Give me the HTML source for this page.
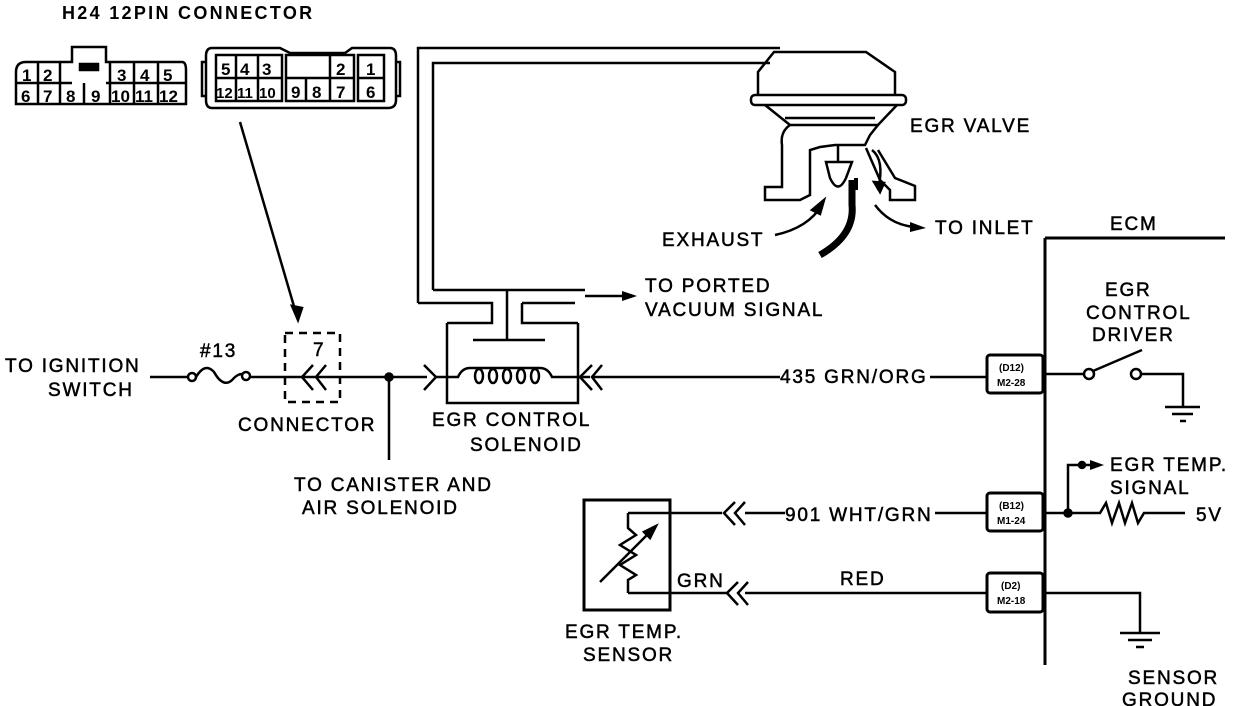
<!DOCTYPE html>
<html><head><meta charset="utf-8"><style>
html,body{margin:0;padding:0;background:#fff;width:1248px;height:706px;overflow:hidden}
svg{display:block}
text{font-family:"Liberation Sans",sans-serif;font-size:19px;fill:#000;letter-spacing:1.8px;stroke:#000;stroke-width:0.5}
.s{font-size:10px;font-weight:bold;letter-spacing:0;stroke:none}
.n{font-size:17px;font-weight:bold;letter-spacing:0;stroke:none}
</style></head><body>
<svg width="1248" height="706" viewBox="0 0 1248 706" fill="none" stroke="#000" stroke-width="2.5">
<text x="62" y="19" style="font-size:18px;font-weight:bold;letter-spacing:2.3px;stroke:none">H24 12PIN CONNECTOR</text>
<!-- left connector -->
<path d="M16,104 V72 Q16,62 26,62 H72 V47 H106 V62 H182 Q186,62 186,70 V104 Z"/>
<path d="M16,83 H72 M106,83 H186 M38,62 V104 M60,62 V104 M110,62 V104 M134,62 V104 M158,62 V104 M84,83 V104"/>
<rect x="80" y="64" width="18" height="6" fill="#000"/>
<text x="22" y="81" class="n">1</text><text x="43" y="81" class="n">2</text><text x="117" y="81" class="n">3</text><text x="140" y="81" class="n">4</text><text x="163" y="81" class="n">5</text>
<text x="21" y="102" class="n">6</text><text x="43" y="102" class="n">7</text><text x="66" y="102" class="n">8</text><text x="91" y="102" class="n">9</text><text x="111" y="102" class="n">10</text><text x="135" y="102" class="n">11</text><text x="159" y="102" class="n">12</text>
<!-- right connector -->
<path d="M212,48 H280 L290,53 H345 L352,48 H390 Q396,48 396,56 V100 Q396,108 388,108 H212 Q206,108 206,100 V56 Q206,48 212,48 Z"/>
<path d="M206,62 H202 V96 H206 M396,62 H400 V96 H396"/>
<rect x="216" y="55" width="66" height="46"/>
<rect x="286" y="55" width="68" height="46"/>
<rect x="358" y="55" width="26" height="46"/>
<path d="M216,78 H282 M236,55 V101 M258,55 V101 M286,78 H354 M306,78 V101 M330,55 V101 M358,78 H384"/>
<text x="221" y="75" class="n">5</text><text x="240" y="75" class="n">4</text><text x="262" y="75" class="n">3</text><text x="336" y="75" class="n">2</text><text x="366" y="75" class="n">1</text>
<text x="216" y="98" class="n" style="font-size:15px">12</text><text x="237" y="98" class="n" style="font-size:15px">11</text><text x="259" y="98" class="n" style="font-size:15px">10</text><text x="291" y="98" class="n">9</text><text x="312" y="98" class="n">8</text><text x="336" y="98" class="n">7</text><text x="366" y="98" class="n">6</text>
<path d="M240,122 L298,320"/>
<path d="M298,320 L292,306 L302,308 Z" fill="#000"/>
<!-- vacuum hose -->
<path d="M418,303 V48 H780"/>
<path d="M433,290 V63 H770"/>
<path d="M418,303 H492 V323 H447"/>
<path d="M433,290 H585"/>
<path d="M507,290 V340 M473,340 H545 M522,303 V323 H578 M522,303 H575"/>
<path d="M585,296 H628"/>
<path d="M637,296 L622,291 L622,301 Z" fill="#000" stroke="none"/>
<!-- EGR valve -->
<path d="M758,95 V72 L774,52 H866 L895,72 V95"/>
<rect x="751" y="95" width="155" height="10" rx="4"/>
<path d="M765,105 L790,125 H878 L897,105 M785,118 H875"/>
<path d="M790,125 Q780,132 782,145 V187 H765 V200 H800 L810,195 V150 L820,147 L835,145 H850 L865,145 L870,135 L878,125"/>
<path d="M838,145 V162 M826,162 H852 L846,178 Q838,195 830,178 Z"/>
<path d="M866,148 L880,180 L890,190 V200 H915 V186 L895,178 L878,150"/>
<path d="M852,180 V205 Q855,235 820,255" stroke-width="7"/>
<path d="M856,178 V190" stroke-width="4"/>
<path d="M872,150 Q885,160 878,190"/>
<path d="M880,192 L874,182 L884,183 Z" fill="#000"/>
<path d="M775,235 Q808,228 822,205"/>
<path d="M824,200 L812,210 L820,214 Z" fill="#000"/>
<path d="M875,205 Q890,225 915,227"/>
<path d="M926,228 L910,222 L910,232 Z" fill="#000" stroke="none"/>
<text x="910" y="132">EGR VALVE</text>
<text x="662" y="246">EXHAUST</text>
<text x="935" y="234">TO INLET</text>
<text x="645" y="292">TO PORTED</text>
<text x="645" y="316">VACUUM SIGNAL</text>
<!-- main wire -->
<text x="5" y="372">TO IGNITION</text>
<text x="48" y="396">SWITCH</text>
<text x="200" y="357">#13</text>
<path d="M150,377 H188"/>
<circle cx="192" cy="377" r="4"/>
<path d="M196,377 Q205,362 214,372 Q224,390 234,378 Q238,374 242,374"/>
<circle cx="246" cy="376" r="4"/>
<path d="M250,377 H427"/>
<path d="M313,365 L302,377 L313,390 M326,365 L316,377 L326,390"/>
<rect x="285" y="333" width="55" height="69" stroke-dasharray="8,6"/>
<text x="313" y="356">7</text>
<circle cx="389" cy="377" r="3.5" fill="#000"/>
<path d="M389,377 V460"/>
<path d="M424,365 L436,377 L424,390"/>
<text x="238" y="431">CONNECTOR</text>
<text x="294" y="491">TO CANISTER AND</text>
<text x="302" y="514">AIR SOLENOID</text>
<!-- solenoid -->
<path d="M447,323 V403 H578 V323"/>
<path d="M436,377 H458 Q462,368 470,368 H540 Q548,368 552,377 H590"/>
<ellipse cx="479" cy="376" rx="4" ry="7"/>
<ellipse cx="493" cy="376" rx="4" ry="7"/>
<ellipse cx="507" cy="376" rx="4" ry="7"/>
<ellipse cx="521" cy="376" rx="4" ry="7"/>
<ellipse cx="535" cy="376" rx="4" ry="7"/>
<text x="432" y="426">EGR CONTROL</text>
<text x="470" y="451">SOLENOID</text>
<path d="M592,365 L580,377 L592,390 M602,365 L592,377 L602,390"/>
<path d="M592,377 H780"/>
<text x="780" y="383">435 GRN/ORG</text>
<path d="M930,377 H987"/>
<!-- ECM -->
<path d="M1045,238 H1225 M1045,238 V665" stroke-width="3"/>
<text x="1110" y="230">ECM</text>
<rect x="987" y="355" width="56" height="38" rx="3" stroke-width="3"/>
<text x="999" y="371" class="s">(D12)</text><text x="997" y="386" class="s">M2-28</text>
<text x="1105" y="296">EGR</text>
<text x="1086" y="319">CONTROL</text>
<text x="1092" y="341">DRIVER</text>
<path d="M1045,374 H1084"/>
<circle cx="1089" cy="374" r="5"/>
<path d="M1093,371 L1142,350"/>
<circle cx="1136" cy="374" r="5"/>
<path d="M1141,374 H1183 V407 M1165,407 H1200 M1172,414 H1193 M1180,421 H1186"/>
<!-- B12 -->
<rect x="987" y="493" width="56" height="38" rx="3" stroke-width="3"/>
<text x="999" y="509" class="s">(B12)</text><text x="997" y="524" class="s">M1-24</text>
<path d="M1045,513 H1100 L1106,503 L1112,523 L1119,503 L1125,523 L1132,503 L1138,523 L1144,513 H1185"/>
<circle cx="1068" cy="513" r="3.5" fill="#000"/>
<path d="M1068,513 V465 H1100"/>
<circle cx="1082" cy="465" r="3" fill="#000"/>
<path d="M1104,465 L1090,460 L1090,470 Z" fill="#000" stroke="none"/>
<text x="1110" y="471">EGR TEMP.</text>
<text x="1110" y="494">SIGNAL</text>
<text x="1196" y="521">5V</text>
<text x="785" y="521">901 WHT/GRN</text>
<path d="M935,513 H987 M745,513 H785 M628,513 H722"/>
<path d="M735,502 L724,513 L735,525 M745,502 L735,513 L745,525"/>
<!-- D2 -->
<rect x="987" y="573" width="56" height="39" rx="3" stroke-width="3"/>
<text x="1001" y="589" class="s">(D2)</text><text x="997" y="604" class="s">M2-18</text>
<path d="M745,593 H987 M628,593 H728"/>
<path d="M738,582 L727,593 L738,605 M748,582 L738,593 L748,605"/>
<text x="840" y="585">RED</text>
<text x="677" y="587">GRN</text>
<path d="M1045,593 H1140 V633 M1120,633 H1160 M1128,640 H1152 M1136,647 H1144"/>
<text x="1128" y="684">SENSOR</text>
<text x="1122" y="706">GROUND</text>
<!-- sensor -->
<rect x="584" y="500" width="86" height="110" stroke-width="3"/>
<path d="M628,513 V528 L636,535 L620,545 L636,555 L620,565 L636,575 L628,580 V593"/>
<path d="M600,582 L652,530"/>
<path d="M656,526 L644,532 L650,538 Z" fill="#000"/>
<text x="565" y="638">EGR TEMP.</text>
<text x="583" y="661">SENSOR</text>
</svg>
</body></html>
